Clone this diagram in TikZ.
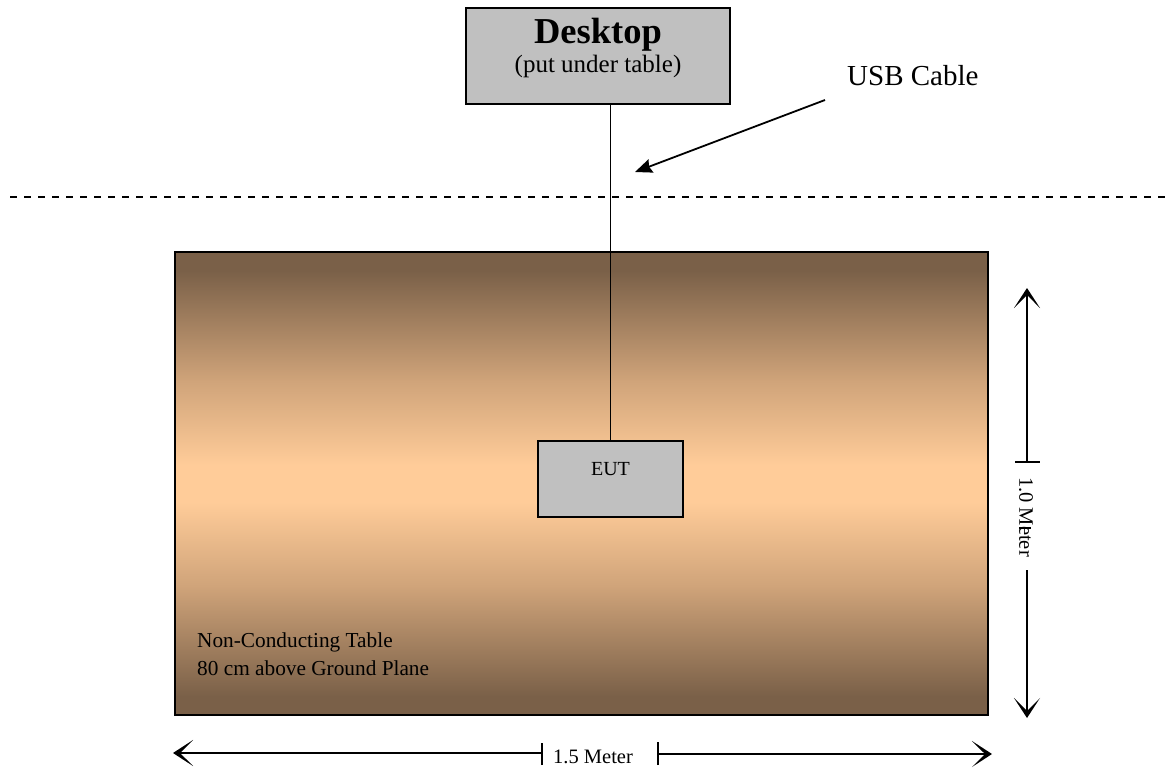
\documentclass[tikz,border=0pt]{standalone}
\usepackage{fontspec}
\setmainfont{Liberation Serif}
\usetikzlibrary{arrows.meta}
\definecolor{tabledark}{HTML}{7A6048}
\definecolor{tablemid}{HTML}{D0A47A}
\definecolor{tablelight}{HTML}{FFCC99}
\definecolor{boxgray}{HTML}{C0C0C0}
% brown at both edges, peach in the middle of the table top
\pgfdeclareverticalshading{tableshade}{100bp}{color(0bp)=(tabledark); color(25bp)=(tabledark); color(27bp)=(tabledark); color(39bp)=(tablemid); color(48bp)=(tablelight); color(52bp)=(tablelight); color(61bp)=(tablemid); color(73bp)=(tabledark); color(75bp)=(tabledark); color(100bp)=(tabledark)}
\tikzset{
  graybox/.style={draw, line width=1.8pt, fill=boxgray, inner sep=0pt},
  dimline/.style={line width=2pt},
  dimtip/.style={dimline, -{Stealth[length=20pt,width=26pt,inset=13pt]}},
  pointer/.style={line width=1.8pt, -{Stealth[length=17pt,width=14pt,inset=2pt]}},
  lbl/.style={inner sep=0pt, anchor=base},
}
\begin{document}
\begin{tikzpicture}[x=1pt,y=-1pt]
\useasboundingbox (0,0) rectangle (1171,771);

% table top
\node[draw, line width=2.8pt, shading=tableshade, minimum width=813pt, minimum height=463pt, inner sep=0pt] (table) at (581.5,483.5) {};
\node[lbl, anchor=base west] (tabletxt1) at (197,647) {\fontsize{21.3}{24}\selectfont Non-Conducting Table};
\node[lbl, anchor=base west] (tabletxt2) at (197,675) {\fontsize{21.3}{24}\selectfont 80 cm above Ground Plane};

% desktop below the table
\node[graybox, minimum width=264pt, minimum height=96pt] (desktop) at (598,56) {};
\node[lbl] (desktoptitle) at (598,43) {\fontsize{36.5}{38}\selectfont\bfseries Desktop};
\node[lbl] (desktopnote) at (598,72) {\fontsize{25}{28}\selectfont (put under table)};

% equipment under test
\node[graybox, minimum width=145pt, minimum height=76pt] (eut) at (610.5,479) {};
\node[lbl] (euttxt) at (610.5,475) {\fontsize{20}{24}\selectfont EUT};

% cable between the two
\draw[line width=1.6pt] (desktop.south -| eut.north) -- (eut.north);

% table edge line
\coordinate (dashL) at (10,197);
\coordinate (dashR) at (1171,197);
\draw[line width=1.5pt, dash pattern=on 7.3pt off 6.7pt] (dashL) -- (dashR);

% cable label
\node[lbl, anchor=base west] (usb) at (847,85) {\fontsize{29}{32}\selectfont USB Cable};
\coordinate (usbfrom) at (825,100);
\coordinate (usbto) at (635,172);
\draw[pointer] (usbfrom) -- (usbto);

% depth dimension
\coordinate (vtop) at (1027,288);
\coordinate (vmid) at (1027,462);
\coordinate (vlow) at (1027,570);
\coordinate (vbot) at (1027,718);
\draw[dimtip] (vmid) -- (vtop);
\draw[dimline] ([xshift=-12pt]vmid) -- ([xshift=13pt]vmid);
\node[inner sep=0pt, rotate=-90] (vtxt) at (1026,517) {\fontsize{20.5}{24}\selectfont 1.0 Meter};
\draw[line width=1.5pt] (1019,528) -- (1031,528);
\draw[dimtip] (vlow) -- (vbot);

% width dimension
\coordinate (hleft) at (173,753);
\coordinate (hmid) at (542,753);
\coordinate (hmid2) at (658,754);
\coordinate (hright) at (992,754);
\draw[dimtip] (hmid) -- (hleft);
\draw[dimline] ([yshift=-12pt]hmid) -- ([yshift=10pt]hmid);
\node[lbl, anchor=base west] (htxt) at (553,763) {\fontsize{20.5}{24}\selectfont 1.5 Meter};
\draw[dimtip] (hmid2) -- (hright);
\draw[dimline] ([yshift=-11pt]hmid2) -- ([yshift=12pt]hmid2);
\end{tikzpicture}
\end{document}
